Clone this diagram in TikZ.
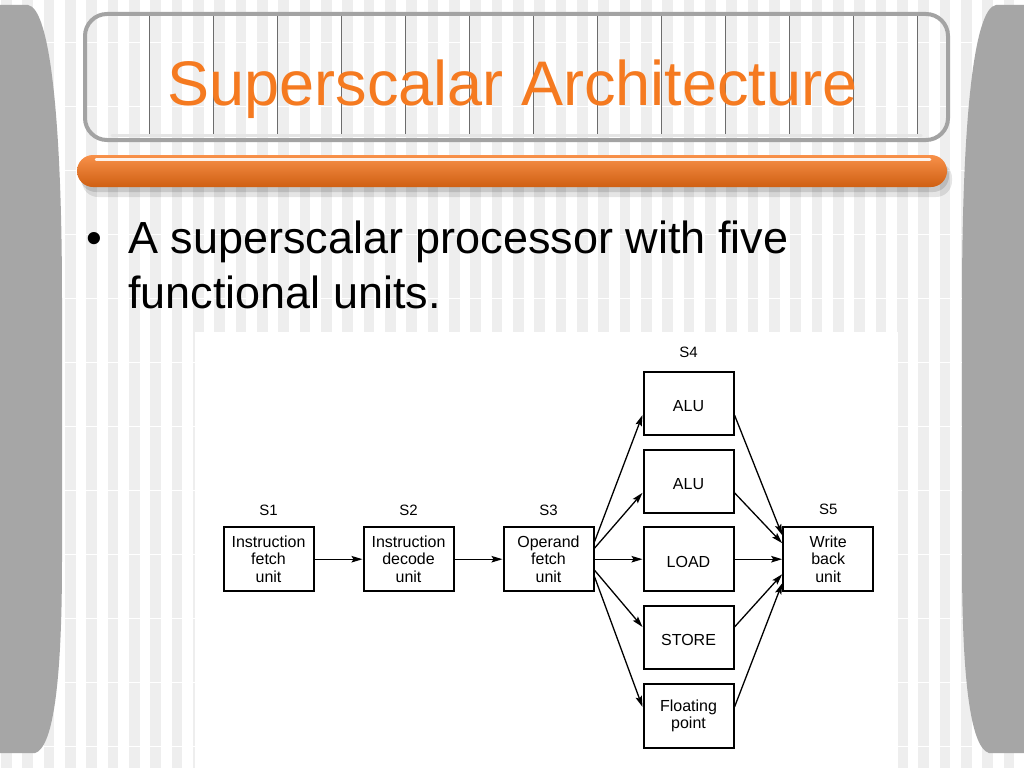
\documentclass[tikz,border=0pt]{standalone}
\usepackage{fontspec}
\setmainfont{Liberation Sans}
\usetikzlibrary{arrows.meta,calc}
\definecolor{stripe}{HTML}{EEEEEE}
\definecolor{barGray}{HTML}{A6A6A6}
\definecolor{frameGray}{HTML}{A3A3A3}
\definecolor{titleOrange}{HTML}{F57A20}
\definecolor{barTop}{HTML}{F8914A}
\definecolor{barMid}{HTML}{F47920}
\definecolor{barBot}{HTML}{CF5F12}
\tikzset{
  unit/.style={draw, line width=2pt, minimum width=90pt, minimum height=63.5pt,
    align=center, font=\fontsize{16}{17.3}\selectfont, inner sep=0pt,
    execute at begin node={\rule{0pt}{16pt}}},
  stage/.style={font=\fontsize{15}{17}\selectfont, anchor=base, inner sep=0pt},
  flow/.style={-{Stealth[length=11pt,width=6.5pt,inset=2pt]}, line width=1.3pt},
  bodytext/.style={font=\fontsize{45}{55}\selectfont, anchor=base west, inner sep=0pt},
}
\begin{document}
\begin{tikzpicture}[x=1pt,y=-1pt]
\useasboundingbox (0,0) rectangle (1024,768);
% background
\fill[white] (0,0) rectangle (1024,768);
\foreach \i in {0,...,48}
  \fill[stripe] ({1+21.333*\i},0) rectangle ({11.67+21.333*\i},768);
\foreach \j in {0,...,11}
  \draw[white, line width=1pt] (0,{42.7+64*\j}) -- (1024,{42.7+64*\j});
% side bars
\fill[barGray] (0,5) -- (28,5) .. controls (50,8) and (62,120) .. (62,300) -- (62,560)
  .. controls (62,690) and (52,748) .. (35,753) -- (0,753) -- cycle;
\fill[barGray] (1024,5) -- (996,5) .. controls (974,8) and (962,120) .. (962,300) -- (962,560)
  .. controls (962,690) and (972,748) .. (989,753) -- (1024,753) -- cycle;
% title frame
\foreach \k in {0,...,12}
  \draw[gray!85!black, line width=0.8pt] ({149+64*\k},16) -- ({149+64*\k},134);
\draw[frameGray, line width=4pt, rounded corners=22pt] (85,14) rectangle (948,140);
\draw[gray!20, line width=3pt, line cap=round] (112,135) -- (921,135);
% orange bar with shadow
\fill[black, opacity=0.10, rounded corners=16pt] (82,162) rectangle (952,197);
\fill[black, opacity=0.12, rounded corners=16pt] (80,160) rectangle (949,192);
\shade[top color=barTop, middle color=barMid, bottom color=barBot, rounded corners=16pt]
  (77,155) rectangle (947,187);
\draw[white, opacity=0.9, line width=2.5pt, line cap=round] (96,159.5) -- (930,159.5);
% title
\node[anchor=base, font=\fontsize{63}{70}\selectfont, text=titleOrange, inner sep=0pt]
  (title) at (512.5,105) {Superscalar Architecture};
% bullet text
\node[bodytext] (bullet) at (86,253.3) {•};
\node[bodytext] (line1) at (128,253.3) {A superscalar processor with five};
\node[bodytext] (line2) at (128,308.3) {functional units.};
% diagram background
\fill[white] (195,332) rectangle (898,768);
% units
\node[unit] (s1) at (268.5,559.2) {Instruction\\fetch\\unit};
\node[unit] (s2) at (408.5,559.2) {Instruction\\decode\\unit};
\node[unit] (s3) at (548.5,559.2) {Operand\\fetch\\unit};
\node[unit] (alu1) at (688.5,403.5) {ALU};
\node[unit] (alu2) at (688.5,481.3) {ALU};
\node[unit] (load) at (688.5,559.2) {LOAD};
\node[unit] (store) at (688.5,637.5) {STORE};
\node[unit] (fp) at (688.5,716) {Floating\\point};
\node[unit] (s5) at (828.2,559.2) {Write\\back\\unit};
% stage labels
\node[stage] (lab1) at (268.5,515) {S1};
\node[stage] (lab2) at (408.5,515) {S2};
\node[stage] (lab3) at (548.5,515) {S3};
\node[stage] (lab4) at (688.5,357) {S4};
\node[stage] (lab5) at (828.2,514) {S5};
% connectors
\draw[flow] (s1.east) -- (s2.west);
\draw[flow] (s2.east) -- (s3.west);
\draw[flow] ([yshift=17.5pt]s3.east) -- ([yshift=-11.5pt]alu1.west);
\draw[flow] ([yshift=11pt]s3.east) -- ([yshift=-11.5pt]alu2.west);
\draw[flow] (s3.east) -- (load.west);
\draw[flow] ([yshift=-11pt]s3.east) -- ([yshift=10.5pt]store.west);
\draw[flow] ([yshift=-17.5pt]s3.east) -- ([yshift=9pt]fp.west);
\draw[flow] ([yshift=-11.5pt]alu1.east) -- ([yshift=24pt]s5.west);
\draw[flow] ([yshift=-11.5pt]alu2.east) -- ([yshift=16pt]s5.west);
\draw[flow] (load.east) -- (s5.west);
\draw[flow] ([yshift=10.5pt]store.east) -- ([yshift=-15pt]s5.west);
\draw[flow] ([yshift=9pt]fp.east) -- ([yshift=-24pt]s5.west);
\end{tikzpicture}
\end{document}
